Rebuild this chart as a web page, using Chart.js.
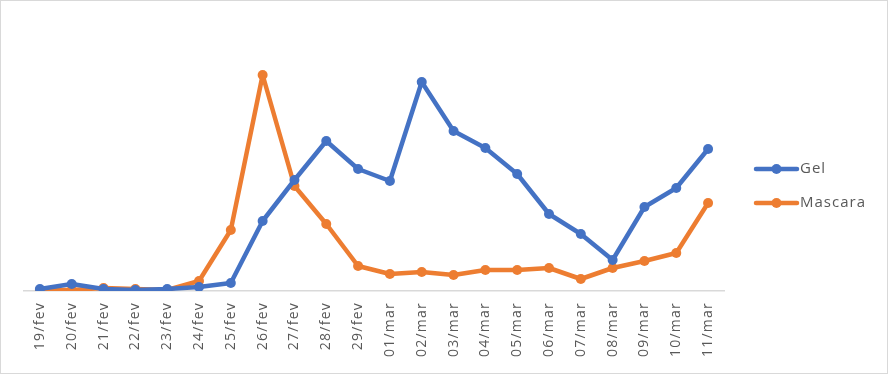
<!DOCTYPE html>
<html>
<head>
<meta charset="utf-8">
<script src="https://cdn.jsdelivr.net/npm/chart.js@4.4.0/dist/chart.umd.min.js"></script>
<style>
  html, body { margin: 0; padding: 0; background: #fff; }
  #wrap { width: 888px; height: 374px; position: relative; }
</style>
</head>
<body>
<div id="wrap"><canvas id="c" width="888" height="374"></canvas></div>
<script>
const categories = ["19/fev","20/fev","21/fev","22/fev","23/fev","24/fev","25/fev","26/fev","27/fev","28/fev","29/fev","01/mar","02/mar","03/mar","04/mar","05/mar","06/mar","07/mar","08/mar","09/mar","10/mar","11/mar"];
const gelValues = [2,7,2,1,2,4,8,70,111,150,122,110,209,160,143,117,77,57,31,84,103,142];
const mascaraValues = [1,1,3,2,1,10,61,216,105,67,25,17,19,16,21,21,23,12,23,30,38,88];
const seriesNames = ["Gel","Mascara"];
const seriesColors = ["#4472C4","#ED7D31"];

const frame = {
  id: 'frame',
  beforeDraw(chart) {
    const ctx = chart.ctx;
    ctx.save();
    ctx.fillStyle = '#fff';
    ctx.fillRect(0, 0, chart.width, chart.height);
    ctx.strokeStyle = '#d9d9d9';
    ctx.lineWidth = 1;
    ctx.strokeRect(0.5, 0.5, chart.width - 1, chart.height - 1);
    ctx.restore();
    ctx.letterSpacing = '1.25px';
  },
  afterDraw(chart) {
    const ctx = chart.ctx;
    ctx.save();
    ctx.letterSpacing = '1px';
    const ys = [169, 203];
    chart.data.datasets.forEach((ds, i) => {
      const y = ys[i];
      ctx.strokeStyle = ds.borderColor;
      ctx.lineWidth = 4.5;
      ctx.lineCap = 'round';
      ctx.beginPath();
      ctx.moveTo(756, y);
      ctx.lineTo(797, y);
      ctx.stroke();
      ctx.fillStyle = ds.borderColor;
      ctx.beginPath();
      ctx.arc(776.5, y, 5, 0, Math.PI * 2);
      ctx.fill();
      ctx.fillStyle = '#595959';
      ctx.font = '15px "Open Sans", sans-serif';
      ctx.textBaseline = 'middle';
      ctx.textAlign = 'left';
      ctx.fillText(ds.label, 800, y);
    });
    ctx.restore();
  }
};

new Chart(document.getElementById('c'), {
  type: 'line',
  data: {
    labels: categories,
    datasets: [
      { label: seriesNames[0], data: gelValues, borderColor: seriesColors[0], backgroundColor: seriesColors[0],
        borderWidth: 4.5, pointRadius: 5, pointBackgroundColor: seriesColors[0], pointBorderWidth: 0, tension: 0,
        borderJoinStyle: 'round', borderCapStyle: 'round' },
      { label: seriesNames[1], data: mascaraValues, borderColor: seriesColors[1], backgroundColor: seriesColors[1],
        borderWidth: 4.5, pointRadius: 5, pointBackgroundColor: seriesColors[1], pointBorderWidth: 0, tension: 0,
        borderJoinStyle: 'round', borderCapStyle: 'round' }
    ]
  },
  options: {
    responsive: false,
    animation: false,
    events: [],
    layout: { padding: { left: 24, right: 164, top: 21, bottom: 0 } },
    plugins: { legend: { display: false }, tooltip: { enabled: false } },
    scales: {
      x: {
        offset: true,
        grid: { display: false, drawTicks: false },
        border: { display: true, color: '#d9d9d9', width: 1.5 },
        ticks: { minRotation: 90, maxRotation: 90, autoSkip: false, color: '#595959', padding: 11,
                 font: { family: '"Open Sans", sans-serif', size: 14 } },
        afterFit(scale) { scale.height = 83; }
      },
      y: {
        display: false,
        min: 0,
        max: 270
      }
    }
  },
  plugins: [frame]
});
</script>
</body>
</html>
